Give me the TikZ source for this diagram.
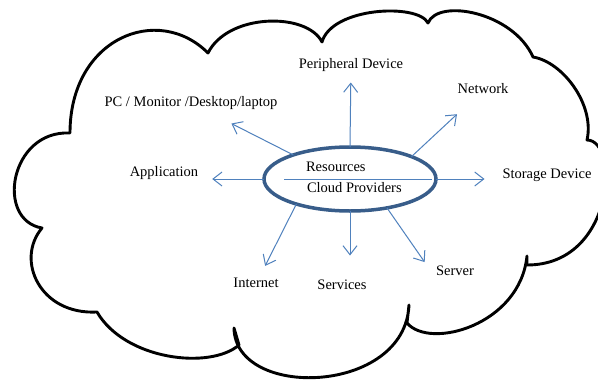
\documentclass[tikz,border=0pt]{standalone}
\usepackage{fontspec}
\setmainfont{Liberation Serif}
\usetikzlibrary{shapes.geometric,arrows.meta}
\definecolor{hubblue}{RGB}{56,93,138}
\definecolor{spokeblue}{RGB}{79,129,189}

\begin{document}
\begin{tikzpicture}[x=1pt, y=-1pt,
    every node/.style = {inner sep=0pt, outer sep=0pt,
      font=\fontsize{14.5}{17}\selectfont,
      text height=10pt, text depth=3pt},
    cloudline/.style = {draw=black, line width=2.9pt, line join=round},
    hub/.style = {ellipse, draw=hubblue, line width=3.5pt,
      minimum width=172pt, minimum height=64pt},
    spoke/.style = {draw=spokeblue, line width=1pt,
      -{Straight Barb[length=9pt,width=14pt]}}]
    \fill[white] (0,0) rectangle (598,381);
    \useasboundingbox (0,0) rectangle (598,381);
    % the cloud, one bump after the other
    \draw[cloudline]
      (70,133) .. controls (70,38) and (158,3) .. (208,53)
      .. controls (228,13) and (307,12) .. (322,42)
      .. controls (332,7) and (418,3) .. (428,23)
      .. controls (438,-2) and (513,12) .. (533,57)
      .. controls (563,62) and (595,105) .. (587,140)
      .. controls (620,140) and (615,265) .. (527,265)
      -- (527,256)
      .. controls (520,325) and (430,350) .. (407,323)
      -- (409,305)
      .. controls (405,395) and (235,400) .. (234,328)
      -- (239,345)
      .. controls (210,370) and (125,360) .. (97,312)
      .. controls (40,315) and (15,260) .. (42,228)
      .. controls (-5,220) and (10,130) .. (70,133) -- cycle;
    % hub
    \node[hub] (res) at (350,179) {};
    \draw[spoke, -] ([xshift=20pt]res.west) -- ([xshift=-4pt]res.east);
    \node[anchor=west] (restop) at (306,168) {Resources};
    \node[anchor=west] (resbot) at (307,189) {Cloud Providers};
    % things around it
    \node (periph) at (351,65) {Peripheral Device};
    \node (network) at (483,90) {Network};
    \node (pc) at (191,103) {PC / Monitor /Desktop/laptop};
    \node (app) at (164,173) {Application};
    \node (storage) at (547,175) {Storage Device};
    \node (internet) at (256,284) {Internet};
    \node (services) at (342,286) {Services};
    \node (server) at (455,272) {Server};
    \draw[spoke, shorten >=11pt] (res.north) -- (periph);
    \draw[spoke, shorten >=26pt] (res.20) -- (network);
    \draw[spoke, shorten >=18pt] (res.east) -- (res.east -| storage.west);
    \draw[spoke, shorten >=14pt] (res.west) -- (res.west -| app.east);
    \draw[spoke, shorten >=31pt] (res.157) -- (pc);
    \draw[spoke, shorten >=13pt] (res.205) -- (internet);
    \draw[spoke, shorten >=24pt] (res.south) -- (res.south |- services.north);
    \draw[spoke, shorten >=20pt] (res.322) -- (server.south west);
\end{tikzpicture}
\end{document}
